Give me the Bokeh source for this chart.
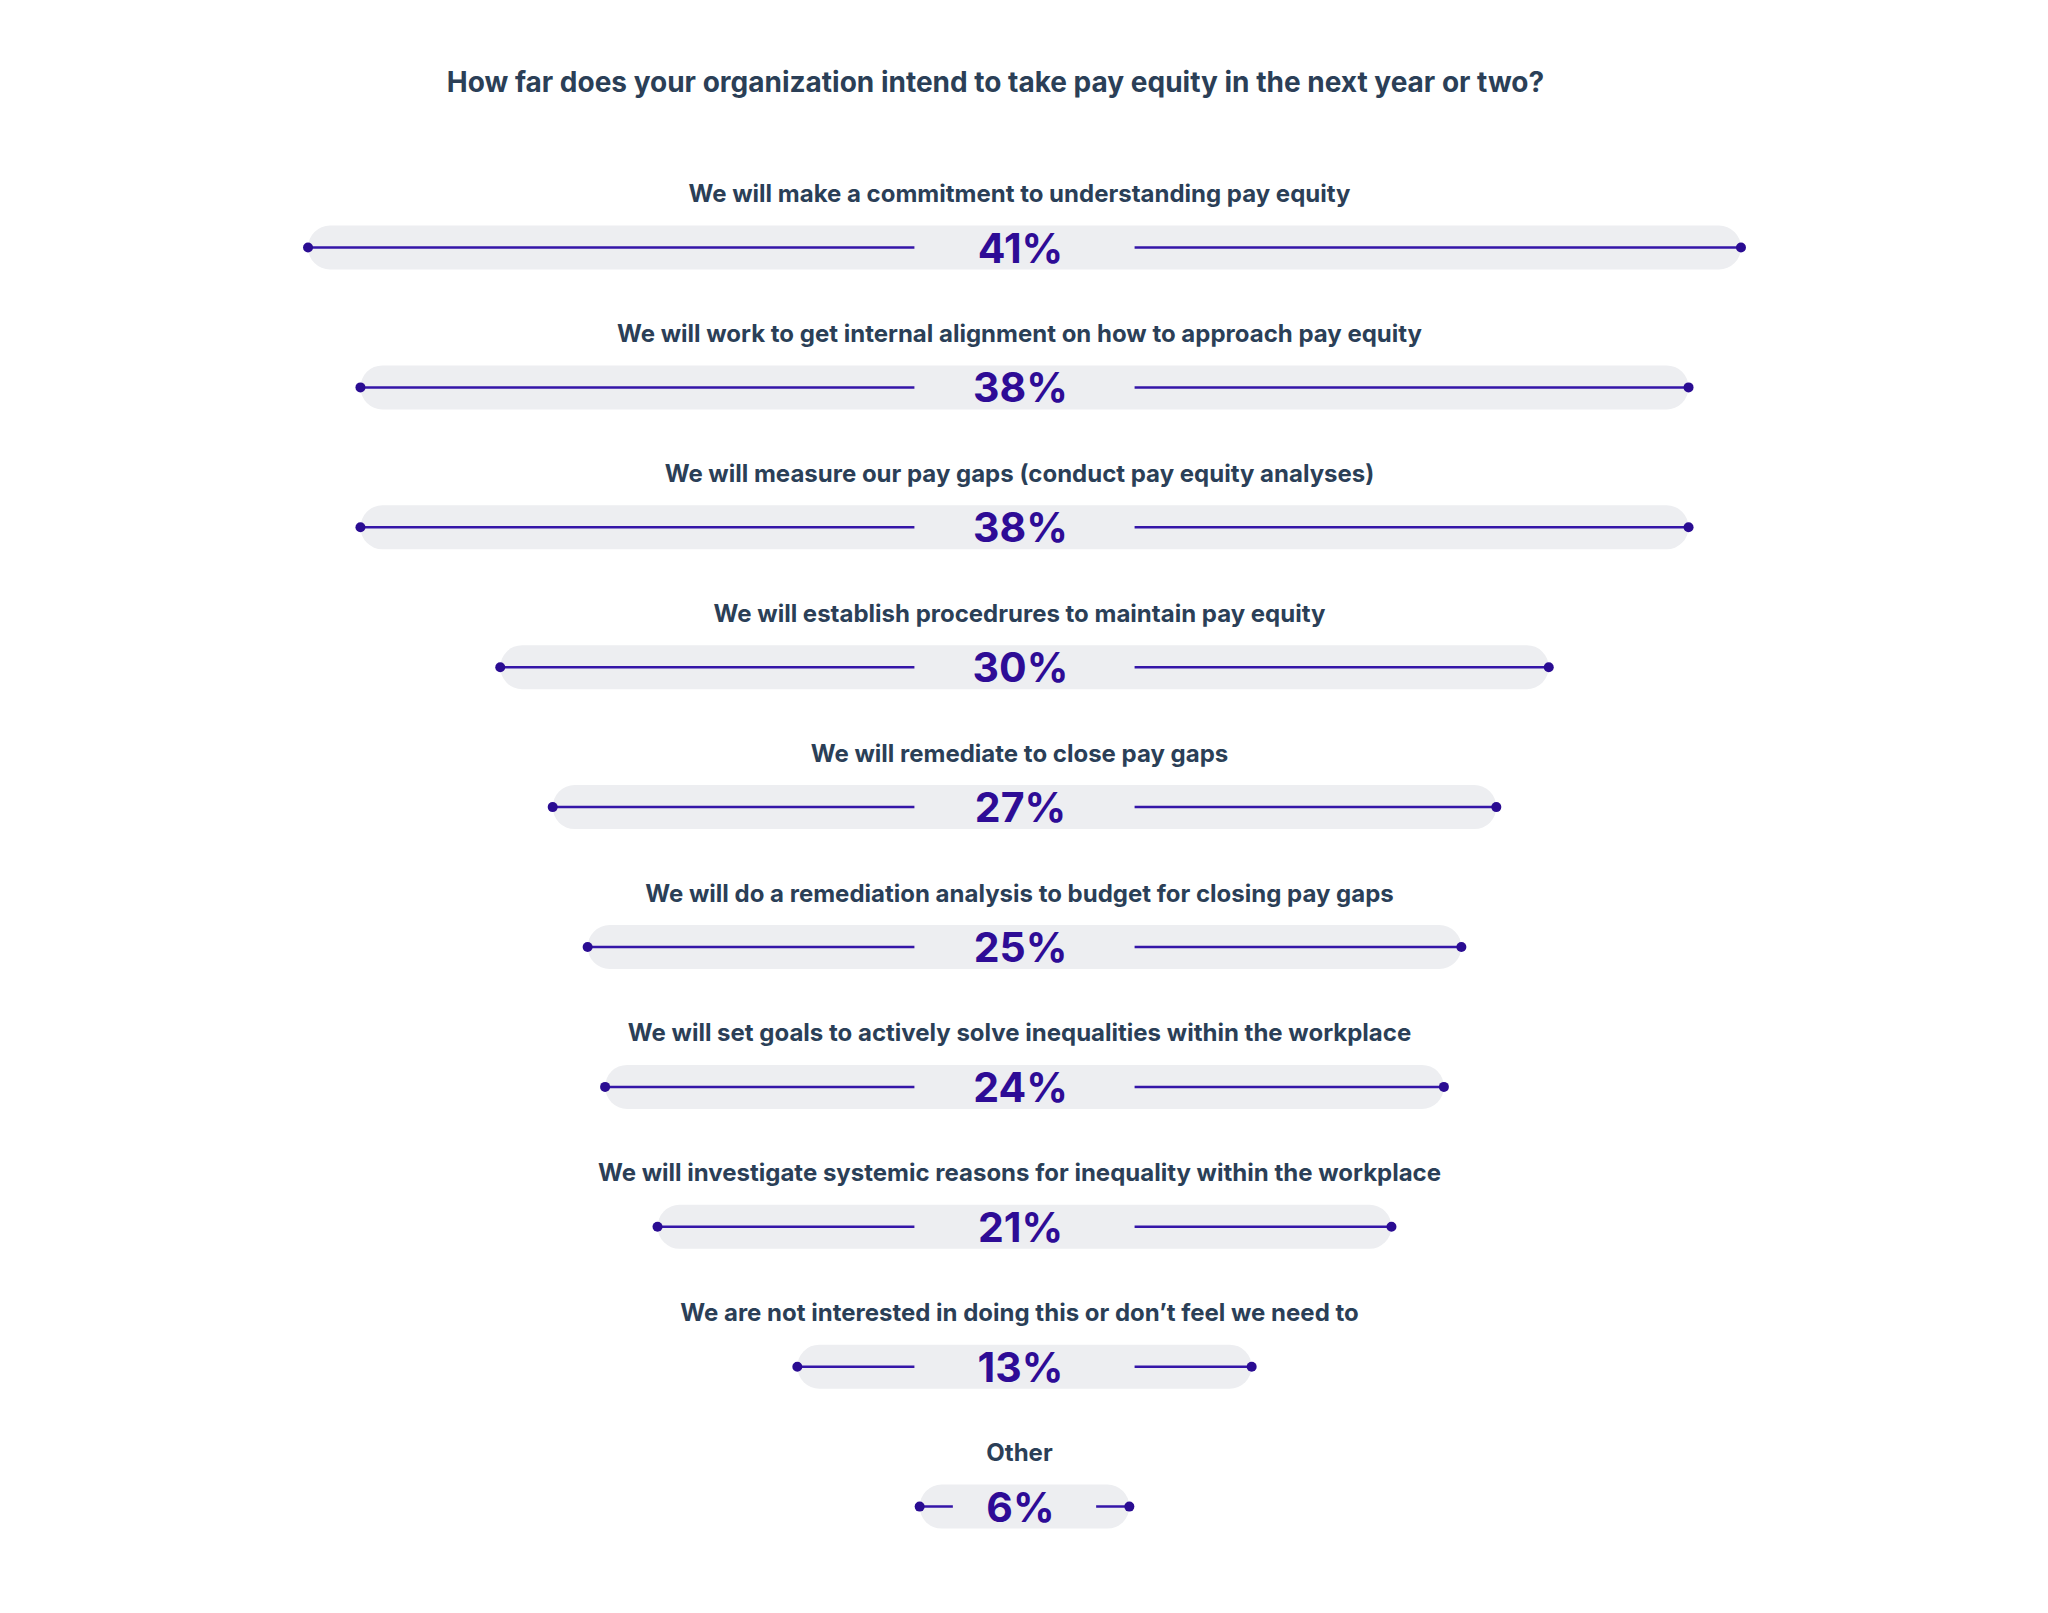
from bokeh.plotting import figure
from bokeh.models import Range1d, ColumnDataSource
from bokeh.core.properties import value
from bokeh.embed import file_html
from bokeh.resources import INLINE

title_text = "How far does your organization intend to take pay equity in the next year or two?"
categories = [
    "We will make a commitment to understanding pay equity",
    "We will work to get internal alignment on how to approach pay equity",
    "We will measure our pay gaps (conduct pay equity analyses)",
    "We will establish procedrures to maintain pay equity",
    "We will remediate to close pay gaps",
    "We will do a remediation analysis to budget for closing pay gaps",
    "We will set goals to actively solve inequalities within the workplace",
    "We will investigate systemic reasons for inequality within the workplace",
    "We are not interested in doing this or don\u2019t feel we need to",
    "Other",
]
percents = [41, 38, 38, 30, 27, 25, 24, 21, 13, 6]

W, H = 2032, 1597
PX_PER_UNIT = 34.95   # horizontal pixels per percentage point
ROW_PX = 139.9        # vertical pixels per row
CX, ROW0 = 1024, 247  # page coordinates of centre / first row

x0 = (0 - CX) / PX_PER_UNIT
x1 = (W - CX) / PX_PER_UNIT
y_top = (0 - ROW0) / ROW_PX
y_bot = (H - ROW0) / ROW_PX

p = figure(width=W, height=H, output_backend="svg", toolbar_location=None,
           x_range=Range1d(x0, x1), y_range=Range1d(y_bot, y_top),
           min_border=0, outline_line_color=None)
p.axis.visible = False
p.grid.visible = False
p.background_fill_color = "white"
p.border_fill_color = "white"

rows = list(range(len(categories)))
half = [v / 2 for v in percents]
gap = [min(3.15, h - 0.95) for h in half]

src = ColumnDataSource(dict(
    row=rows, pct=percents,
    left=[-h for h in half], right=half,
    gl=[-g for g in gap], gr=gap,
    label=categories, ptxt=[f"{v}%" for v in percents],
    zero=[0] * len(rows),
))

pill_h = 44 / ROW_PX
p.hbar(y="row", left="left", right="right", height=pill_h, source=src,
       fill_color="#EDEEF1", line_color=None, border_radius=22)

LINE = "#3516A8"
p.segment(x0="left", y0="row", x1="gl", y1="row", source=src,
          line_color=LINE, line_width=2.5)
p.segment(x0="gr", y0="row", x1="right", y1="row", source=src,
          line_color=LINE, line_width=2.5)
p.scatter(x="left", y="row", source=src, size=10, fill_color="#2A0C92", line_color=None)
p.scatter(x="right", y="row", source=src, size=10, fill_color="#2A0C92", line_color=None)

p.text(x="zero", y="row", text="ptxt", source=src, text_align="center",
       text_baseline="middle", text_font=value("Inter"), text_font_style="bold",
       text_font_size="41px", text_color="#2E0C96", x_offset=-4, y_offset=0)

p.text(x="zero", y="row", text="label", source=src, text_align="center",
       text_baseline="middle", text_font=value("Inter"), text_font_style="bold",
       text_font_size="24px", text_color="#2B3F57", x_offset=-5, y_offset=-54)

p.text(x=[0], y=[(81 - ROW0) / ROW_PX], text=[title_text], text_align="center",
       text_baseline="middle", text_font=value("Inter"), text_font_style="bold",
       text_font_size="28px", text_color="#2B3F57", x_offset=-29)

open("out.html", "w").write(file_html(p, INLINE))
